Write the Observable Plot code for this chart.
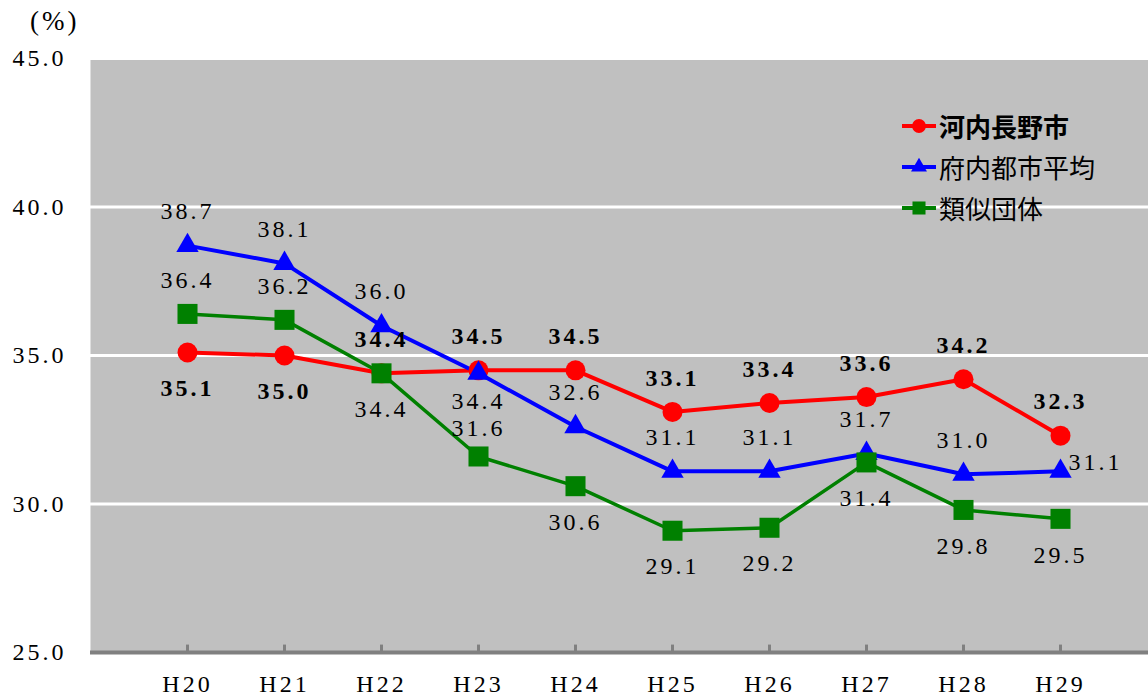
<!DOCTYPE html>
<html><head><meta charset="utf-8">
<script src="https://cdn.jsdelivr.net/npm/d3@7"></script>
<script src="https://cdn.jsdelivr.net/npm/@observablehq/plot@0.6"></script>
<style>
body{margin:0;background:#fff;}
#wrap{position:relative;width:1148px;height:696px;overflow:hidden;}
#unit{position:absolute;left:30px;top:6px;font-family:"Liberation Serif","DejaVu Serif",serif;font-size:27px;letter-spacing:3px;color:#000;}
#legend{position:absolute;left:902px;top:105px;font-family:"Noto Sans CJK JP",sans-serif;font-size:26px;color:#000;}
#legend .row{display:flex;align-items:center;height:41px;}
#legend svg{display:block;margin-right:3px;}
</style></head><body><div id="wrap"><div id="unit">(%)</div><div id="legend"></div></div>
<script>
const years = ["H20","H21","H22","H23","H24","H25","H26","H27","H28","H29"];
const kawachinagano = [35.1, 35.0, 34.4, 34.5, 34.5, 33.1, 33.4, 33.6, 34.2, 32.3];
const funaiAverage  = [38.7, 38.1, 36.0, 34.4, 32.6, 31.1, 31.1, 31.7, 31.0, 31.1];
const ruijiDantai   = [36.4, 36.2, 34.4, 31.6, 30.6, 29.1, 29.2, 31.4, 29.8, 29.5];
const seriesNames = ["河内長野市", "府内都市平均", "類似団体"];
const yTicks = [25, 30, 35, 40, 45];

// label placement per series (a = above, b = below, r = right, n = near: tighter offset)
const labelPlace = [
  ["b","b","a","a","a","a","a","a","a","a"],
  ["a","a","a","bn","a","a","a","a","a","r"],
  ["a","a","b","an","b","b","b","b","b","b"]
];
const seriesValues = [kawachinagano, funaiAverage, ruijiDantai];
const colors = ["#ff0000", "#0000ff", "#008000"];
const symbols = ["circle", "triangle", "square"];
const radii = [10, 8.3, 11.3];
const widths = [4, 4, 3.5];
const fontStack = "'Liberation Serif', 'DejaVu Serif', serif";
const offsets = {a: [0, -34], b: [0, 36], an: [0, -28], bn: [0, 28], r: [8, -9]};

const rows = [];
seriesValues.forEach((vals, si) => vals.forEach((v, i) => rows.push({
  year: years[i], value: v, series: seriesNames[si], si, place: labelPlace[si][i]
})));

const marks = [
  Plot.frame({fill: "#c0c0c0"}),
  Plot.ruleY(yTicks.filter(d => d > 25), {stroke: "white", strokeWidth: 3}),
  Plot.ruleY([25], {stroke: "#808080", strokeWidth: 4}),
  Plot.ruleX(years, {x: d => d, y1: 25, y2: 25.25, stroke: "#808080", strokeWidth: 3}),
  Plot.axisY({ticks: yTicks, tickFormat: d => d.toFixed(1), tickSize: 0, tickPadding: 24, label: null, fontSize: 24}),
  Plot.axisX({tickSize: 0, tickPadding: 22, label: null, fontSize: 24})
];
seriesNames.forEach((name, si) => {
  const d = rows.filter(r => r.si === si);
  marks.push(Plot.line(d, {x: "year", y: "value", stroke: colors[si], strokeWidth: widths[si]}));
});
seriesNames.forEach((name, si) => {
  const d = rows.filter(r => r.si === si);
  marks.push(Plot.dot(d, {x: "year", y: "value", fill: colors[si], symbol: symbols[si], r: radii[si], stroke: "none"}));
});
seriesNames.forEach((name, si) => {
  const d = rows.filter(r => r.si === si);
  const extra = si === 0 ? {fontWeight: "bold"} : {};
  const base = {x: "year", y: "value", text: r => r.value.toFixed(1), fill: "black", fontSize: 24, ...extra};
  Object.entries(offsets).forEach(([key, [dx, dy]]) => {
    const sub = d.filter(r => r.place === key);
    if (sub.length) marks.push(Plot.text(sub, {...base, dx, dy, textAnchor: key === "r" ? "start" : "middle"}));
  });
});

const chart = Plot.plot({
  width: 1148, height: 696,
  marginLeft: 90, marginRight: 0, marginTop: 58, marginBottom: 44,
  x: {type: "point", domain: years, range: [185, 1061], padding: 0},
  y: {domain: [25, 45]},
  style: {fontFamily: fontStack, fontSize: "24px", letterSpacing: "3px", color: "black", background: "white"},
  marks
});
document.getElementById("wrap").prepend(chart);

// legend
const legend = document.getElementById("legend");
seriesNames.forEach((name, si) => {
  const row = document.createElement("div");
  row.className = "row";
  if (si === 0) row.style.fontWeight = "700";
  const svg = d3.create("svg").attr("width", 34).attr("height", 20);
  svg.append("line").attr("x1", 0).attr("x2", 34).attr("y1", 10).attr("y2", 10)
    .attr("stroke", colors[si]).attr("stroke-width", 4);
  svg.append("path").attr("transform", "translate(17,10)")
    .attr("d", d3.symbol(d3["symbol" + symbols[si][0].toUpperCase() + symbols[si].slice(1)], [150, 110, 170][si])())
    .attr("fill", colors[si]);
  row.appendChild(svg.node());
  const span = document.createElement("span");
  span.textContent = name;
  row.appendChild(span);
  legend.appendChild(row);
});
</script>
</body></html>
